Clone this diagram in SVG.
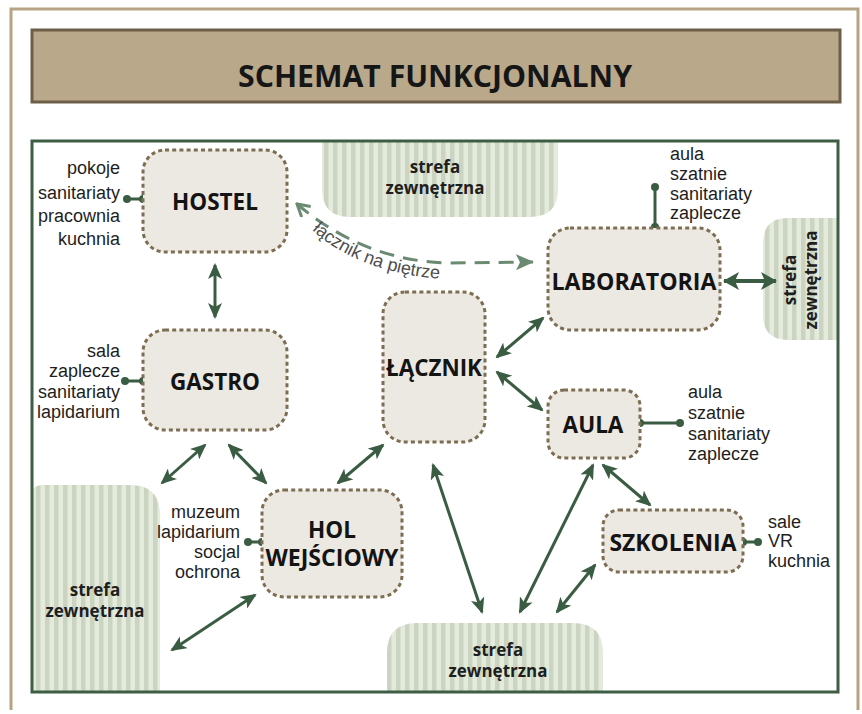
<svg xmlns="http://www.w3.org/2000/svg" width="862" height="714" viewBox="0 0 862 714">
<defs>
<pattern id="stripes" patternUnits="userSpaceOnUse" width="9" height="10">
<rect width="9" height="10" fill="#e4ebdc"/>
<rect width="4.5" height="10" fill="#cad4c1"/>
</pattern>
<marker id="ah" viewBox="0 0 16 14" markerWidth="16" markerHeight="14" refX="14" refY="7" orient="auto-start-reverse" markerUnits="userSpaceOnUse">
<path d="M0,0 L16,7 L0,14 L4,7 z" fill="#3a5c42"/>
</marker>
<marker id="ahBig" viewBox="0 0 16 18" markerWidth="16" markerHeight="18" refX="15" refY="9" orient="auto-start-reverse" markerUnits="userSpaceOnUse">
<path d="M0,0 L16,9 L0,18 L4,9 z" fill="#3a5c42"/>
</marker>
<marker id="dashEnd" viewBox="0 0 18 16" markerWidth="18" markerHeight="16" refX="17" refY="8" orient="auto" markerUnits="userSpaceOnUse">
<path d="M0,0 L18,8 L0,16 L4,8 z" fill="#6b8a72"/>
</marker>
<marker id="dashStart" viewBox="0 0 16 16" markerWidth="16" markerHeight="16" refX="2" refY="8" orient="auto" markerUnits="userSpaceOnUse">
<path d="M14,1 L2,8 L14,15" fill="none" stroke="#6b8a72" stroke-width="3"/>
</marker>
</defs>
<style>
.box{fill:#ece8e2;stroke:#7d6d52;stroke-width:3;stroke-dasharray:4 3.2}
.node{font-family:"Open Sans","DejaVu Sans",sans-serif;font-weight:700;font-size:22.5px;fill:#141414;text-anchor:middle}
.lbl{font-family:"Liberation Sans",Arial,sans-serif;font-size:18px;fill:#1e1e1e}
.r{text-anchor:end}
.zone{fill:url(#stripes)}
.zt{font-family:"Open Sans","DejaVu Sans",sans-serif;font-weight:700;font-size:17px;fill:#1e1e1e;text-anchor:middle}
.arr{stroke:#3a5c42;stroke-width:3;fill:none;marker-start:url(#ah);marker-end:url(#ah)}
.link{stroke:#3a5c42;stroke-width:3}
.dot{fill:#3a5c42}
</style>
<rect width="862" height="714" fill="#ffffff"/>
<path d="M11,710 L11,9 L858,9 L858,710" fill="none" stroke="#b5a383" stroke-width="3"/>
<g id="title">
<rect x="32" y="30" width="808" height="72" fill="#b9a88a" stroke="#6c5e47" stroke-width="3"/>
<text x="435" y="87" font-family="Open Sans, DejaVu Sans, sans-serif" font-weight="700" font-size="30" fill="#161616" text-anchor="middle" textLength="394" lengthAdjust="spacingAndGlyphs">SCHEMAT FUNKCJONALNY</text>
</g>
<g id="zones">
<g id="zone-top">
<path class="zone" d="M322,141 L558,141 L558,189 Q558,217 530,217 L350,217 Q322,217 322,189 Z"/>
<text class="zt" x="435" y="173">strefa</text>
<text class="zt" x="435" y="194">zewnętrzna</text>
</g>
<g id="zone-right">
<path class="zone" d="M838,218 L838,340 L788,340 Q763,340 763,315 L763,243 Q763,218 788,218 Z"/>
<text class="zt" transform="translate(796,280) rotate(-90)">strefa</text>
<text class="zt" transform="translate(817,280) rotate(-90)">zewnętrzna</text>
</g>
<g id="zone-left">
<path class="zone" d="M32,692 L32,495 Q32,485 42,485 L130,485 Q160,485 160,515 L160,692 Z"/>
<text class="zt" x="95" y="596">strefa</text>
<text class="zt" x="95" y="617">zewnętrzna</text>
</g>
<g id="zone-bottom">
<path class="zone" d="M387,692 L387,653 Q387,623 417,623 L573,623 Q603,623 603,653 L603,692 Z"/>
<text class="zt" x="498" y="656">strefa</text>
<text class="zt" x="498" y="677">zewnętrzna</text>
</g>
</g>
<rect x="32" y="141" width="806" height="551" fill="none" stroke="#3d5e44" stroke-width="3"/>
<g id="connectors">
<line class="arr" x1="215" y1="265" x2="215" y2="317"/>
<line class="arr" x1="162" y1="483" x2="205" y2="445"/>
<line class="arr" x1="229" y1="445" x2="266" y2="483"/>
<line class="arr" x1="338" y1="483" x2="383" y2="445"/>
<line class="arr" x1="172" y1="650" x2="255" y2="595"/>
<line class="arr" x1="497" y1="357" x2="543" y2="318"/>
<line class="arr" x1="497" y1="372" x2="542" y2="410"/>
<line class="arr" x1="603" y1="465" x2="650" y2="505"/>
<line class="arr" x1="433" y1="465" x2="482" y2="612"/>
<line class="arr" x1="593" y1="465" x2="520" y2="612"/>
<line class="arr" x1="595" y1="565" x2="557" y2="612"/>
<line x1="724" y1="281" x2="776" y2="281" stroke="#3a5c42" stroke-width="4" marker-start="url(#ahBig)" marker-end="url(#ahBig)"/>
<path d="M297,204 C330,232 380,262 450,263 L533,262" fill="none" stroke="#6b8a72" stroke-width="3" stroke-dasharray="15 9" marker-start="url(#dashStart)" marker-end="url(#dashEnd)"/>
<path id="tp" d="M312,230 C345,260 395,279 465,280" fill="none"/>
<text font-family="Liberation Sans, Arial, sans-serif" font-size="18" fill="#4d4d4d"><textPath href="#tp">łącznik na piętrze</textPath></text>
<g id="ties">
<line class="link" x1="127" y1="199" x2="143" y2="199"/><circle class="dot" cx="127" cy="199" r="4"/><circle class="dot" cx="143" cy="199" r="4"/>
<line class="link" x1="125" y1="381" x2="143" y2="381"/><circle class="dot" cx="125" cy="381" r="4"/><circle class="dot" cx="143" cy="381" r="4"/>
<line class="link" x1="248" y1="542" x2="262" y2="542"/><circle class="dot" cx="248" cy="542" r="4"/><circle class="dot" cx="262" cy="542" r="4"/>
<line class="link" x1="655" y1="187" x2="655" y2="227"/><circle class="dot" cx="655" cy="187" r="4"/><circle class="dot" cx="655" cy="227" r="4"/>
<line class="link" x1="640" y1="423" x2="680" y2="423"/><circle class="dot" cx="640" cy="423" r="4"/><circle class="dot" cx="680" cy="423" r="4"/>
<line class="link" x1="743" y1="542" x2="758" y2="542"/><circle class="dot" cx="743" cy="542" r="4"/><circle class="dot" cx="758" cy="542" r="4"/>
</g>
</g>
<g id="hostel">
<rect class="box" x="143" y="150" width="144" height="102" rx="22"/>
<text class="node" x="215" y="210">HOSTEL</text>
<text class="lbl r" x="120" y="174">pokoje</text>
<text class="lbl r" x="120" y="199">sanitariaty</text>
<text class="lbl r" x="120" y="222">pracownia</text>
<text class="lbl r" x="120" y="245">kuchnia</text>
</g>
<g id="gastro">
<rect class="box" x="143" y="330" width="144" height="100" rx="22"/>
<text class="node" x="215" y="390">GASTRO</text>
<text class="lbl r" x="120" y="357">sala</text>
<text class="lbl r" x="120" y="377">zaplecze</text>
<text class="lbl r" x="120" y="398">sanitariaty</text>
<text class="lbl r" x="120" y="418">lapidarium</text>
</g>
<g id="lacznik">
<rect class="box" x="383" y="292" width="102" height="150" rx="22"/>
<text class="node" x="434" y="376" textLength="96" lengthAdjust="spacingAndGlyphs">ŁĄCZNIK</text>
</g>
<g id="laboratoria">
<rect class="box" x="548" y="228" width="172" height="102" rx="22"/>
<text class="node" x="634" y="290" textLength="165" lengthAdjust="spacingAndGlyphs">LABORATORIA</text>
<text class="lbl" x="670" y="160">aula</text>
<text class="lbl" x="670" y="180">szatnie</text>
<text class="lbl" x="670" y="200">sanitariaty</text>
<text class="lbl" x="670" y="219">zaplecze</text>
</g>
<g id="aula">
<rect class="box" x="548" y="390" width="92" height="68" rx="16"/>
<text class="node" x="593" y="433">AULA</text>
<text class="lbl" x="688" y="398">aula</text>
<text class="lbl" x="688" y="419">szatnie</text>
<text class="lbl" x="688" y="440">sanitariaty</text>
<text class="lbl" x="688" y="460">zaplecze</text>
</g>
<g id="szkolenia">
<rect class="box" x="603" y="510" width="140" height="62" rx="16"/>
<text class="node" x="673" y="551" textLength="127" lengthAdjust="spacingAndGlyphs">SZKOLENIA</text>
<text class="lbl" x="768" y="528">sale</text>
<text class="lbl" x="768" y="547">VR</text>
<text class="lbl" x="768" y="567">kuchnia</text>
</g>
<g id="hol">
<rect class="box" x="262" y="490" width="140" height="107" rx="22"/>
<text class="node" x="332" y="538">HOL</text>
<text class="node" x="332" y="566" textLength="133" lengthAdjust="spacingAndGlyphs">WEJŚCIOWY</text>
<text class="lbl r" x="240" y="518">muzeum</text>
<text class="lbl r" x="240" y="538">lapidarium</text>
<text class="lbl r" x="240" y="558">socjal</text>
<text class="lbl r" x="240" y="578">ochrona</text>
</g>
</svg>
